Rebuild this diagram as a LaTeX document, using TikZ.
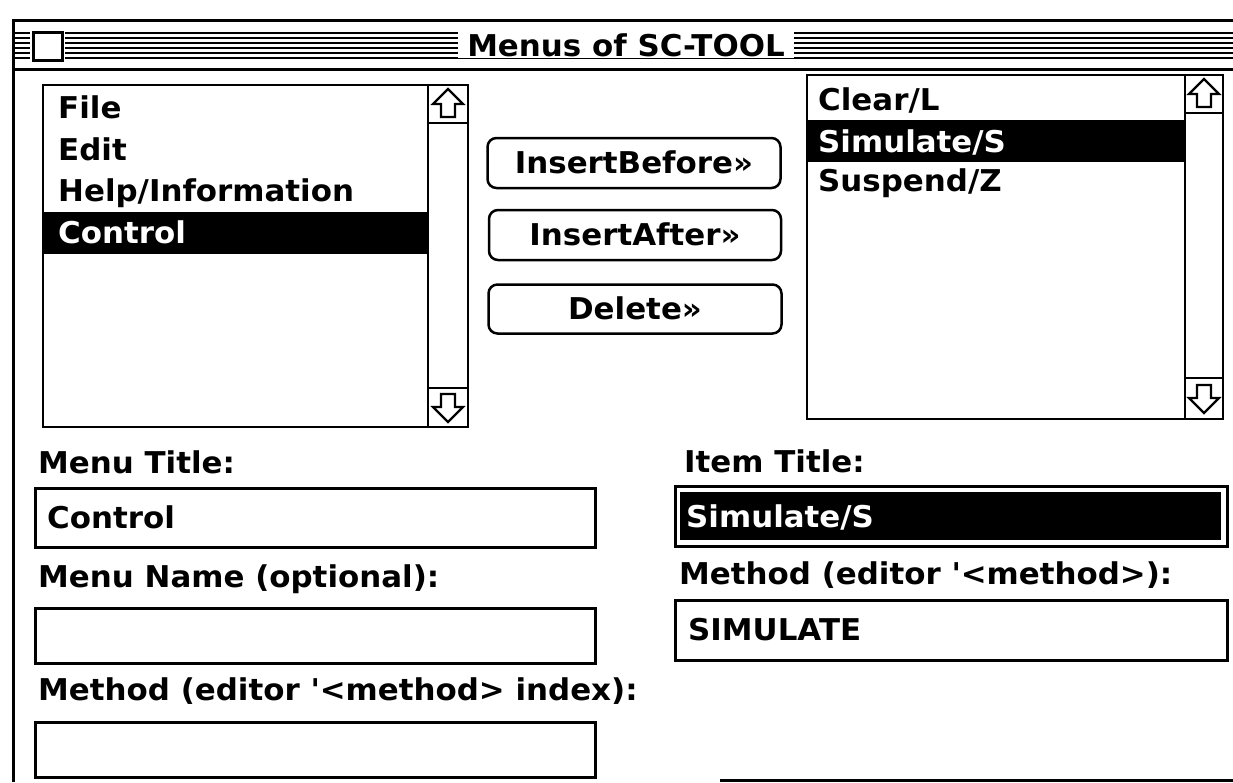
\documentclass[tikz,border=0pt]{standalone}
\usepackage{fontspec}
\setmainfont{DejaVu Sans}[FakeStretch=1.03]
\newcommand{\macfont}{\fontsize{30}{34}\selectfont\bfseries}
\tikzset{
  frm/.style={draw=black, line width=3pt},
  thin/.style={draw=black, line width=2.8pt},
  stripe/.style={draw=black, line width=2pt},
  lbl/.style={anchor=base west, inner sep=0pt, font=\macfont},
  lblw/.style={lbl, text=white},
  btn/.style={draw=black, line width=2.5pt, rounded corners=9pt, font=\macfont,
    text height=21pt, text depth=0pt, inner sep=0pt},
  uparrow/.pic={\draw[line width=2.2pt, fill=white, line join=miter]
     (0,-15)--(15,0)--(7,0)--(7,13)--(-7,13)--(-7,0)--(-15,0)--cycle;},
  downarrow/.pic={\draw[line width=2.2pt, fill=white, line join=miter]
     (0,15)--(15,0)--(7,0)--(7,-13)--(-7,-13)--(-7,0)--(-15,0)--cycle;}
}
\begin{document}
\begin{tikzpicture}[x=1pt,y=-1pt]
\useasboundingbox[fill=white] (0,0) rectangle (1233,782);
% window frame
\draw[frm] (13,782) -- (13,20) -- (1233,20);
\draw[frm] (13,69) -- (1233,69);
\draw[frm] (720,780) -- (1233,780);
% title bar stripes
\foreach \yy in {33,38,43,48,53,58}{
  \draw[stripe] (15,\yy) -- (30,\yy);
  \draw[stripe] (65,\yy) -- (1233,\yy);
}
\draw[frm, fill=white] (33,32) rectangle (62,60);
\node[fill=white, font=\macfont, text height=22pt, text depth=0pt, inner xsep=9pt, inner ysep=2pt] (title) at (626,45) {Menus of SC-TOOL};
% left list
\fill[black] (43,212) rectangle (428,254);
\draw[thin] (43,85) rectangle (468,427);
\draw[thin] (428,85) -- (428,427);
\draw[thin] (428,123) -- (468,123);
\draw[thin] (428,388) -- (468,388);
\pic at (448,104) {uparrow};
\pic at (448,407) {downarrow};
\node[lbl] (lfile) at (58,118) {File};
\node[lbl] (ledit) at (58,160) {Edit};
\node[lbl] (lhelp) at (58,201) {Help/Information};
\node[lblw] (lctrl) at (58,243) {Control};
% buttons
\node[btn, minimum width=293pt, minimum height=50pt] (bbefore) at (634,163) {InsertBefore>>};
\node[btn, minimum width=292pt, minimum height=50pt] (bafter) at (635,235) {InsertAfter>>};
\node[btn, minimum width=293pt, minimum height=49pt] (bdelete) at (635,309) {Delete>>};
% right list
\fill[black] (807,120) rectangle (1185,162);
\draw[thin] (807,75) rectangle (1223,419);
\draw[thin] (1185,75) -- (1185,419);
\draw[thin] (1185,113) -- (1223,113);
\draw[thin] (1185,378) -- (1223,378);
\pic at (1204,94) {uparrow};
\pic at (1204,398) {downarrow};
\node[lbl] (rclear) at (818,110) {Clear/L};
\node[lblw] (rsim) at (818,152) {Simulate/S};
\node[lbl] (rsusp) at (818,191) {Suspend/Z};
% bottom left fields
\node[lbl] (mtitle) at (38,473) {Menu Title:};
\draw[frm] (35,488) rectangle (595,547);
\node[lbl] (mtval) at (47,528) {Control};
\node[lbl] (mname) at (38,587) {Menu Name (optional):};
\draw[frm] (35,608) rectangle (595,663);
\node[lbl] (mmeth) at (38,700) {Method (editor \textquotesingle<method> index):};
\draw[frm] (35,722) rectangle (595,777);
% bottom right fields
\node[lbl] (ititle) at (684,472) {Item Title:};
\draw[frm] (675,486) rectangle (1227,546);
\fill[black] (680,492) rectangle (1221,540);
\node[lblw] (itval) at (686,527) {Simulate/S};
\node[lbl] (imeth) at (679,584) {Method (editor \textquotesingle<method>):};
\draw[frm] (675,600) rectangle (1227,660);
\node[lbl] (imval) at (688,640) {SIMULATE};
\end{tikzpicture}
\end{document}
